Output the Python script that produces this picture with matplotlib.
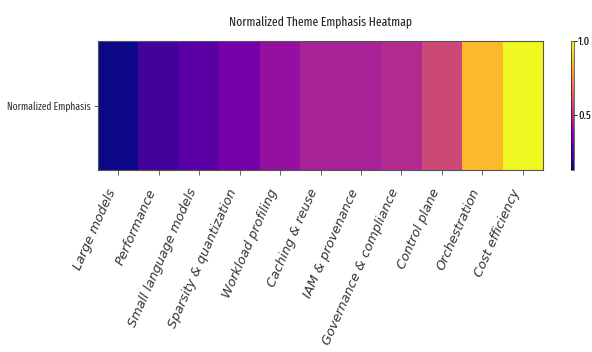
import matplotlib
matplotlib.use("Agg")
import matplotlib.pyplot as plt
from matplotlib import font_manager
import numpy as np

themes = ["Large models", "Performance", "Small language models",
          "Sparsity & quantization", "Workload profiling", "Caching & reuse",
          "IAM & provenance", "Governance & compliance", "Control plane",
          "Orchestration", "Cost efficiency"]
emphasis = [0.13, 0.22, 0.27, 0.33, 0.40, 0.45, 0.45, 0.48, 0.57, 0.87, 1.00]
row_labels = ["Normalized Emphasis"]
cbar_ticks = [0.5, 1.0]

installed = {f.name for f in font_manager.fontManager.ttflist}
narrow = next((f for f in ["Fira Sans Extra Condensed", "Barlow Condensed",
                           "Open Sans Condensed", "DejaVu Sans"] if f in installed))

plt.rcParams['font.family'] = ['DejaVu Sans']
fig = plt.figure(figsize=(5.92, 3.52), dpi=100)
ax = fig.add_axes([98/592, 1-170/352, 445/592, 129/352])
cax = fig.add_axes([571/592, 1-170/352, 3/592, 129/352])

data = np.array([emphasis])
im = ax.imshow(data, cmap="plasma", aspect="auto")
ax.set_xticks(np.arange(len(themes)))
ax.set_xticklabels(themes, rotation=66, ha="right", fontsize=9.3, style="italic",
                   color="#333333")
ax.tick_params(axis="x", pad=8.5, color="#666666", width=0.7)
ax.set_yticks(np.arange(len(row_labels)))
ax.set_yticklabels(row_labels, fontsize=7.4, color="#333333", family=narrow)
ax.tick_params(axis="y", length=3, pad=2, color="#666666", width=0.7)
ax.set_title("Normalized Theme Emphasis Heatmap", fontsize=9.1, pad=11,
             color="#222222", family=narrow)
for s in ax.spines.values():
    s.set_color("#555555")

cb = fig.colorbar(im, cax=cax, ticks=cbar_ticks)
cb.ax.tick_params(labelsize=8.2, length=2, width=0.6, pad=1)
for t in cb.ax.get_yticklabels():
    t.set_family(narrow)
cb.outline.set_linewidth(0.4)

fig.savefig("out.png", dpi=100)
